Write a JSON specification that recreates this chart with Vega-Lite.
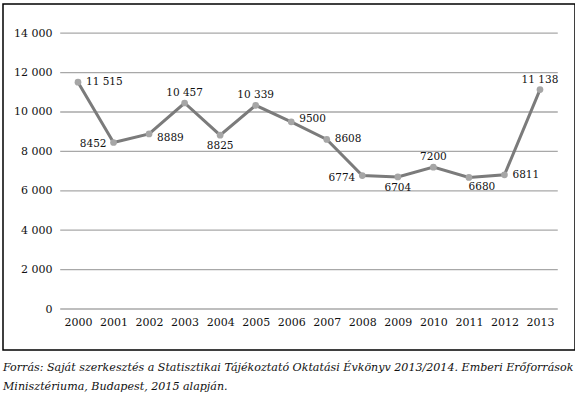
{
  "$schema": "https://vega.github.io/schema/vega-lite/v6.json",
  "width": 572,
  "height": 346,
  "padding": {"left": 3, "top": 4, "right": 0, "bottom": 0},
  "background": "white",
  "title": {
    "text": [
      "Forrás: Saját szerkesztés a Statisztikai Tájékoztató Oktatási Évkönyv 2013/2014. Emberi Erőforrások",
      "Minisztériuma, Budapest, 2015 alapján."
    ],
    "orient": "bottom",
    "anchor": "start",
    "font": "DejaVu Serif",
    "fontStyle": "italic",
    "fontWeight": "normal",
    "fontSize": 11.1,
    "lineHeight": 19,
    "color": "#111111",
    "offset": 12
  },
  "config": {
    "view": {"stroke": "#000000", "strokeWidth": 1.5},
    "axis": {
      "labelFont": "DejaVu Serif",
      "labelFontSize": 11,
      "labelColor": "#111111",
      "domain": false,
      "ticks": false,
      "tickSize": 0,
      "grid": false,
      "title": null,
      "labelPadding": 0
    },
    "text": {"font": "DejaVu Serif", "fontSize": 10.5, "color": "#111111", "baseline": "middle"}
  },
  "datasets": {
    "enrolment": [
      {"year": 2000, "count": 11515},
      {"year": 2001, "count": 8452},
      {"year": 2002, "count": 8889},
      {"year": 2003, "count": 10457},
      {"year": 2004, "count": 8825},
      {"year": 2005, "count": 10339},
      {"year": 2006, "count": 9500},
      {"year": 2007, "count": 8608},
      {"year": 2008, "count": 6774},
      {"year": 2009, "count": 6704},
      {"year": 2010, "count": 7200},
      {"year": 2011, "count": 6680},
      {"year": 2012, "count": 6811},
      {"year": 2013, "count": 11138}
    ],
    "gridlines": [{"count": 0}, {"count": 2000}, {"count": 4000}, {"count": 6000}, {"count": 8000}, {"count": 10000}, {"count": 12000}, {"count": 14000}]
  },
  "layer": [
    {
      "data": {"name": "gridlines"},
      "mark": {"type": "rule", "color": "#a8a8a8", "strokeWidth": 1.3},
      "encoding": {
        "y": {
          "field": "count",
          "type": "quantitative",
          "scale": {"domain": [-2081, 15482], "nice": false, "zero": false},
          "axis": {
            "values": [0, 2000, 4000, 6000, 8000, 10000, 12000, 14000],
            "labelExpr": "replace(format(datum.value, ','), ',', ' ')",
            "labelFlush": false,
            "labelOverlap": false,
            "offset": -49
          }
        },
        "x": {
          "datum": 1999.5,
          "type": "quantitative",
          "scale": {"domain": [1997.89, 2013.985], "nice": false, "zero": false},
          "axis": {
            "values": [2000, 2001, 2002, 2003, 2004, 2005, 2006, 2007, 2008, 2009, 2010, 2011, 2012, 2013],
            "format": "d",
            "labelFlush": false,
            "labelOverlap": false,
            "labelBaseline": "top",
            "offset": -34
          }
        },
        "x2": {"datum": 2013.5}
      }
    },
    {
      "data": {"name": "enrolment"},
      "transform": [
        {"calculate": "datum.count >= 10000 ? replace(format(datum.count, ','), ',', ' ') : format(datum.count, 'd')", "as": "label"}
      ],
      "encoding": {
        "x": {"field": "year", "type": "quantitative"},
        "y": {"field": "count", "type": "quantitative"}
      },
      "layer": [
        {"mark": {"type": "line", "color": "#7b7b7b", "strokeWidth": 3}},
        {"mark": {"type": "point", "filled": true, "opacity": 1, "color": "#a6a6a6", "size": 45}},
        {
          "transform": [{"filter": {"field": "year", "oneOf": [2000, 2007, 2012]}}],
          "mark": {"type": "text", "align": "left", "dx": 8, "dy": 0},
          "encoding": {"text": {"field": "label"}}
        },
        {
          "transform": [{"filter": {"field": "year", "oneOf": [2002]}}],
          "mark": {"type": "text", "align": "left", "dx": 8, "dy": 4},
          "encoding": {"text": {"field": "label"}}
        },
        {
          "transform": [{"filter": {"field": "year", "oneOf": [2006]}}],
          "mark": {"type": "text", "align": "left", "dx": 8, "dy": -3},
          "encoding": {"text": {"field": "label"}}
        },
        {
          "transform": [{"filter": {"field": "year", "oneOf": [2001, 2008]}}],
          "mark": {"type": "text", "align": "right", "dx": -7, "dy": 2},
          "encoding": {"text": {"field": "label"}}
        },
        {
          "transform": [{"filter": {"field": "year", "oneOf": [2003, 2005, 2010, 2013]}}],
          "mark": {"type": "text", "align": "center", "dy": -10},
          "encoding": {"text": {"field": "label"}}
        },
        {
          "transform": [{"filter": {"field": "year", "oneOf": [2004, 2009]}}],
          "mark": {"type": "text", "align": "center", "dy": 11},
          "encoding": {"text": {"field": "label"}}
        },
        {
          "transform": [{"filter": {"field": "year", "oneOf": [2011]}}],
          "mark": {"type": "text", "align": "center", "dx": 13, "dy": 10},
          "encoding": {"text": {"field": "label"}}
        }
      ]
    }
  ]
}
